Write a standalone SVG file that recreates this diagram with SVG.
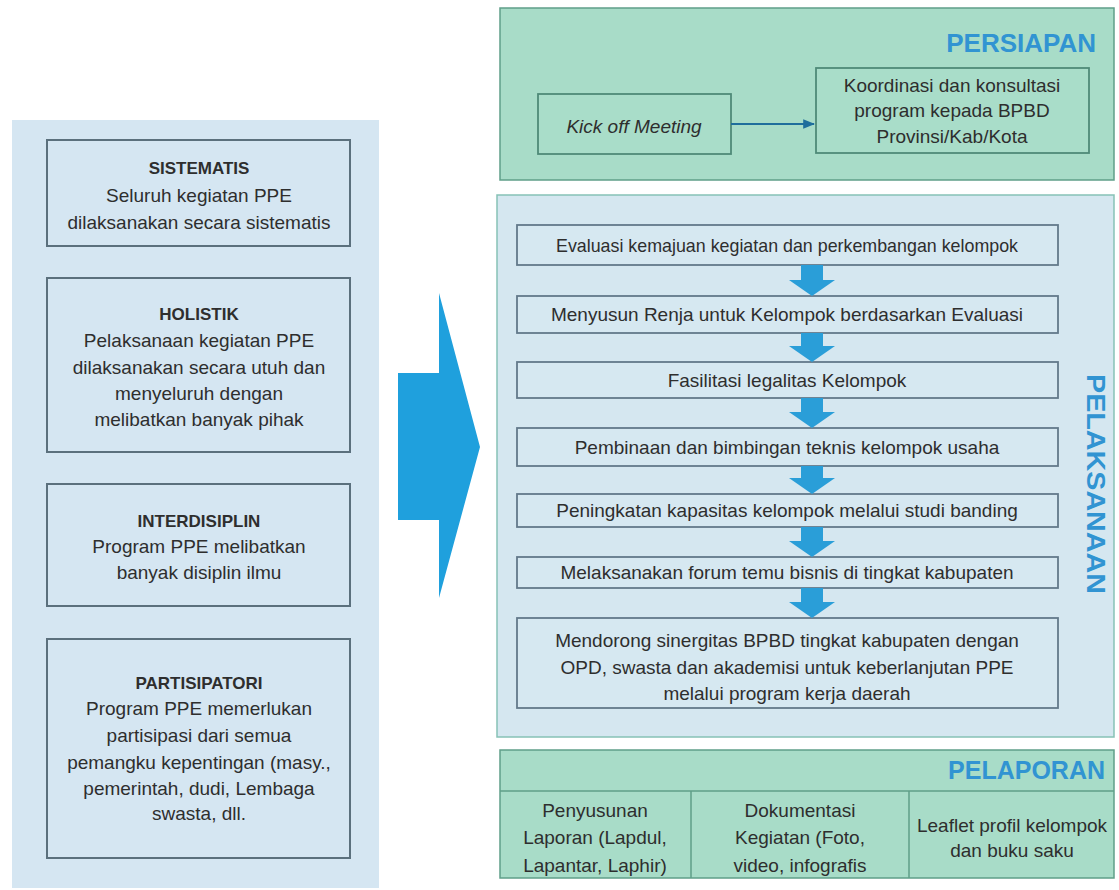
<svg xmlns="http://www.w3.org/2000/svg" width="1119" height="890" viewBox="0 0 1119 890">
<defs>
<style>
.t{font-family:"Liberation Sans",Arial,sans-serif;font-size:19px;fill:#2e2e2e;text-anchor:middle}
.b{font-weight:bold;font-size:17px}
.i{font-style:italic}
.h{font-family:"Liberation Sans",Arial,sans-serif;font-weight:bold;font-size:25px;fill:#3194d2}
.lbox{fill:#d5e6f2;stroke:#5b707d;stroke-width:2}
.sbox{fill:#d6e8f1;stroke:#63798a;stroke-width:1.8}
.mint{fill:#a8dcc8;stroke:#5f9f89;stroke-width:1.5}
.mbox{fill:#a9ddc9;stroke:#4f8a78;stroke-width:1.8}
.down{fill:#2a9ed8}
</style>
<marker id="ah" viewBox="0 0 10 10" refX="9" refY="5" markerWidth="6" markerHeight="6" orient="auto">
<path d="M0,1 L10,5 L0,9 z" fill="#1f6e9c"/>
</marker>
</defs>
<rect width="1119" height="890" fill="#ffffff"/>

<g id="left-panel">
<rect x="12" y="120" width="367" height="768" fill="#d5e6f2"/>
</g>
<g id="sistematis">
<rect class="lbox" x="47" y="140" width="303" height="106"/>
<text class="t b" x="199" y="174">SISTEMATIS</text>
<text class="t" x="199" y="202">Seluruh kegiatan PPE</text>
<text class="t" x="199" y="229">dilaksanakan secara sistematis</text>
</g>
<g id="holistik">
<rect class="lbox" x="47" y="278" width="303" height="174"/>
<text class="t b" x="199" y="320">HOLISTIK</text>
<text class="t" x="199" y="347">Pelaksanaan kegiatan PPE</text>
<text class="t" x="199" y="374">dilaksanakan secara utuh dan</text>
<text class="t" x="199" y="400">menyeluruh dengan</text>
<text class="t" x="199" y="426">melibatkan banyak pihak</text>
</g>
<g id="interdisiplin">
<rect class="lbox" x="47" y="484" width="303" height="122"/>
<text class="t b" x="199" y="527">INTERDISIPLIN</text>
<text class="t" x="199" y="553">Program PPE melibatkan</text>
<text class="t" x="199" y="579">banyak disiplin ilmu</text>
</g>
<g id="partisipatori">
<rect class="lbox" x="47" y="639" width="303" height="219"/>
<text class="t b" x="199" y="689">PARTISIPATORI</text>
<text class="t" x="199" y="715">Program PPE memerlukan</text>
<text class="t" x="199" y="742">partisipasi dari semua</text>
<text class="t" x="199" y="769">pemangku kepentingan (masy.,</text>
<text class="t" x="199" y="795">pemerintah, dudi, Lembaga</text>
<text class="t" x="199" y="820">swasta, dll.</text>
</g>

<g id="big-arrow">
<polygon points="398,373 439,373 439,293 480,447 439,598 439,520 398,520" fill="#1fa0dd"/>
</g>

<g id="persiapan">
<rect class="mint" x="500" y="8" width="614" height="172"/>
<text class="h" x="1096" y="52" text-anchor="end" style="font-size:26px">PERSIAPAN</text>
</g>
<g id="kickoff">
<rect class="mbox" x="538" y="94" width="193" height="60"/>
<text class="t i" x="634" y="133">Kick off Meeting</text>
</g>
<g id="koordinasi">
<rect class="mbox" x="816" y="68" width="273" height="85"/>
<text class="t" x="952" y="92">Koordinasi dan konsultasi</text>
<text class="t" x="952" y="117">program kepada BPBD</text>
<text class="t" x="952" y="143">Provinsi/Kab/Kota</text>
</g>

<g id="pelaksanaan">
<rect x="497" y="195" width="617" height="542" fill="#d5e7f0" stroke="#86c2b6" stroke-width="1.5"/>
<text class="h" transform="translate(1087,484) rotate(90)" text-anchor="middle" textLength="220" lengthAdjust="spacingAndGlyphs">PELAKSANAAN</text>
</g>
<g id="step1">
<rect class="sbox" x="517" y="225" width="541" height="40"/>
<text class="t" x="787" y="252" textLength="462" lengthAdjust="spacingAndGlyphs">Evaluasi kemajuan kegiatan dan perkembangan kelompok</text>
</g>
<g id="step2">
<rect class="sbox" x="517" y="296" width="541" height="37"/>
<text class="t" x="787" y="321">Menyusun Renja untuk Kelompok berdasarkan Evaluasi</text>
</g>
<g id="step3">
<rect class="sbox" x="517" y="362" width="541" height="36"/>
<text class="t" x="787" y="387">Fasilitasi legalitas Kelompok</text>
</g>
<g id="step4">
<rect class="sbox" x="517" y="428" width="541" height="38"/>
<text class="t" x="787" y="454">Pembinaan dan bimbingan teknis kelompok usaha</text>
</g>
<g id="step5">
<rect class="sbox" x="517" y="494" width="541" height="33"/>
<text class="t" x="787" y="517">Peningkatan kapasitas kelompok melalui studi banding</text>
</g>
<g id="step6">
<rect class="sbox" x="517" y="557" width="541" height="31"/>
<text class="t" x="787" y="579">Melaksanakan forum temu bisnis di tingkat kabupaten</text>
</g>
<g id="step7">
<rect class="sbox" x="517" y="618" width="541" height="90"/>
<text class="t" x="787" y="647">Mendorong sinergitas BPBD tingkat kabupaten dengan</text>
<text class="t" x="787" y="674">OPD,  swasta dan akademisi untuk keberlanjutan PPE</text>
<text class="t" x="787" y="700">melalui program kerja daerah</text>
</g>

<g id="pelaporan">
<rect class="mint" x="500" y="750" width="614" height="128"/>
<line x1="500" y1="791" x2="1114" y2="791" stroke="#5f9f89" stroke-width="1.5"/>
<line x1="691" y1="791" x2="691" y2="878" stroke="#5f9f89" stroke-width="1.5"/>
<line x1="909" y1="791" x2="909" y2="878" stroke="#5f9f89" stroke-width="1.5"/>
<text class="h" x="1105" y="779" text-anchor="end">PELAPORAN</text>
</g>
<g id="penyusunan">
<text class="t" x="595" y="817">Penyusunan</text>
<text class="t" x="595" y="844">Laporan (Lapdul,</text>
<text class="t" x="595" y="872">Lapantar, Laphir)</text>
</g>
<g id="dokumentasi">
<text class="t" x="800" y="817">Dokumentasi</text>
<text class="t" x="800" y="844">Kegiatan (Foto,</text>
<text class="t" x="800" y="872">video, infografis</text>
</g>
<g id="leaflet">
<text class="t" x="1012" y="832">Leaflet profil kelompok</text>
<text class="t" x="1012" y="857">dan buku saku</text>
</g>

<g id="connectors">
<line x1="731" y1="124" x2="814" y2="124" stroke="#1f6e9c" stroke-width="2" marker-end="url(#ah)"/>
<polygon class="down" points="801,265 823,265 823,280 835,280 812,296 789,280 801,280"/>
<polygon class="down" points="801,333 823,333 823,346 835,346 812,362 789,346 801,346"/>
<polygon class="down" points="801,398 823,398 823,412 835,412 812,428 789,412 801,412"/>
<polygon class="down" points="801,466 823,466 823,478 835,478 812,494 789,478 801,478"/>
<polygon class="down" points="801,527 823,527 823,541 835,541 812,557 789,541 801,541"/>
<polygon class="down" points="801,588 823,588 823,602 835,602 812,618 789,602 801,602"/>
</g>
</svg>
